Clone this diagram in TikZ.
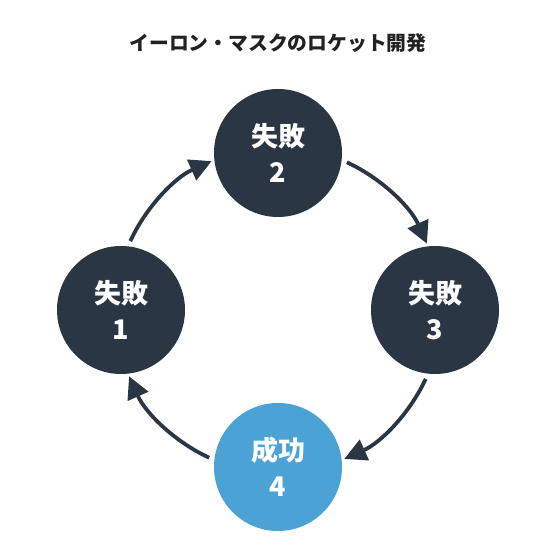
\documentclass[tikz,border=0pt]{standalone}
\usepackage{fontspec}
\newfontfamily\cjk{Noto Sans CJK JP}
\usetikzlibrary{arrows.meta,calc}
\definecolor{dark}{HTML}{2B3644}
\definecolor{sky}{HTML}{4BA3D5}
\definecolor{titlec}{HTML}{222222}
\tikzset{
  stage/.style={circle, minimum size=128pt, inner sep=0pt, fill=dark, text=white,
    font=\cjk\bfseries\fontsize{27}{36}\selectfont, align=center},
  goal/.style={stage, fill=sky},
  flow/.style={draw=dark, line width=3.8pt, -{Triangle[length=22pt,width=22pt]}}
}
\begin{document}
\begin{tikzpicture}[x=1pt,y=1pt]
\useasboundingbox (0,0) rectangle (532,553);
\coordinate (C) at (278,243);
\node[font=\cjk\bfseries\fontsize{19.8}{22}\selectfont, text=titlec] (title) at (278,510) {イーロン・マスクのロケット開発};
\node[stage] (l) at ($(C)+(180:157)$) {失敗\\1};
\node[stage] (t) at ($(C)+(90:157)$) {失敗\\2};
\node[stage] (r) at ($(C)+(0:157)$) {失敗\\3};
\node[goal]  (b) at ($(C)+(270:157)$) {成功\\4};
\draw[flow] ($(C)+(155:163)$) arc[start angle=155, end angle=114, radius=163];
\draw[flow] ($(C)+(65:163)$) arc[start angle=65, end angle=24, radius=163];
\draw[flow] ($(C)+(-25:163)$) arc[start angle=-25, end angle=-66, radius=163];
\draw[flow] ($(C)+(-115:163)$) arc[start angle=-115, end angle=-156, radius=163];
\end{tikzpicture}
\end{document}
